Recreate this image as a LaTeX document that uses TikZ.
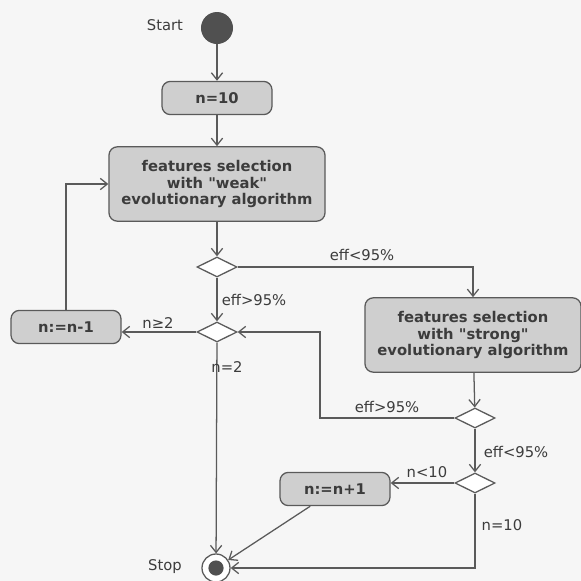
\documentclass[tikz,border=0pt]{standalone}
\usepackage{fontspec}
\setsansfont{DejaVu Sans}[Ligatures=TeXOff]
\usepackage{xcolor}
\definecolor{boxgray}{HTML}{CFCFCF}
\definecolor{linegray}{HTML}{5A5A5A}
\definecolor{inkgray}{HTML}{3C3C3C}
\definecolor{paper}{HTML}{F6F6F6}
\usetikzlibrary{positioning, shapes.geometric, arrows.meta}
\tikzstyle{arrow} = [draw=linegray, line width=0.9pt, -{Straight Barb[length=5pt,width=8pt]}]

\begin{document}
\begin{tikzpicture}[x=0.025cm, y=-0.025cm]
        \tikzstyle{every node}=[font=\sffamily\fontsize{10.5}{12.5}\selectfont, text=inkgray]
        \tikzstyle{action} = [rectangle, rounded corners=6pt, draw=linegray, line width=0.9pt, fill=boxgray, align=center, font=\sffamily\bfseries\fontsize{10.5}{11.5}\selectfont]
        \tikzstyle{small action} = [action, minimum width=2.75cm, minimum height=0.83cm]
        \tikzstyle{big action} = [action, minimum width=5.4cm, minimum height=1.86cm]
        \tikzstyle{choice} = [diamond, draw=linegray, line width=0.9pt, fill=white, minimum width=1cm, minimum height=0.5cm, inner sep=0pt]
        \tikzstyle{guard} = [inner sep=1pt]

        % paper
        \fill[paper] (0,0) rectangle (581,581);
        \useasboundingbox (0,0) rectangle (581,581);

        % start and stop
        \node[circle, fill=inkgray!90, minimum size=0.8cm, inner sep=0pt](start) at (217,28) {};
        \node(starttext) at (165,25) {Start};
        \node[circle, draw=linegray, line width=0.9pt, fill=white, minimum size=0.7cm, inner sep=0pt](stop) at (216,568) {};
        \node[circle, fill=inkgray!90, minimum size=0.38cm, inner sep=0pt](stopdot) at (216,568) {};
        \node(stoptext) at (165,567) {Stop};

        % actions
        \node[small action](n10) at (217,98) {n=10};
        \node[big action](weak) at (217,184) {features selection\\with "weak"\\evolutionary algorithm};
        \node[small action](dec) at (66,327) {n:=n-1};
        \node[big action](strong) at (473,335) {features selection\\with "strong"\\evolutionary algorithm};
        \node[small action](inc) at (335,489) {n:=n+1};

        % decisions
        \node[choice](d1) at (217,267) {};
        \node[choice](d2) at (217,332) {};
        \node[choice](d3) at (475,418) {};
        \node[choice](d4) at (475,483) {};
        \coordinate(back) at (320,418);

        \draw[arrow] (start) -- (n10);
        \draw[arrow] (n10) -- (weak);
        \draw[arrow] (weak) -- (d1);
        \draw[arrow] (d1) -- (d2);
        \draw[arrow] (d1.east) -| (strong.north);
        \draw[arrow] (d2.west) -- (d2.west -| dec.east);
        \draw[arrow] (dec.north) |- (weak.west);
        \draw[arrow] (d2) -- (stop);
        \draw[arrow] (strong) -- (d3);
        \draw[arrow] (d3.west) -- (back) |- (d2.east);
        \draw[arrow] (d3) -- (d4);
        \draw[arrow] (d4.west) -- (d4.west -| inc.east);
        \draw[arrow] (d4.south) |- (stop.east);
        \draw[arrow] ([xshift=-0.62cm]inc.south) -- (stop);

        % guards
        \node[guard](g1) at (254,300) {eff>95\%};
        \node[guard](g2) at (362,255) {eff<95\%};
        \node[guard](g3) at (158,323) {n≥2};
        \node[guard](g4) at (227,367) {n=2};
        \node[guard](g5) at (387,407) {eff>95\%};
        \node[guard](g6) at (516,452) {eff<95\%};
        \node[guard](g7) at (427,472) {n<10};
        \node[guard](g8) at (502,525) {n=10};
\end{tikzpicture}
\end{document}
